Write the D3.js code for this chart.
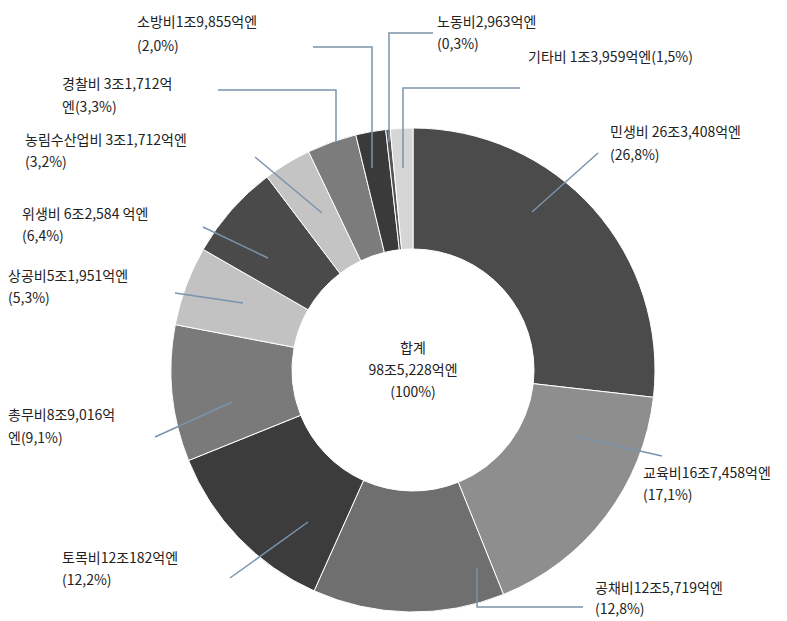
<!DOCTYPE html>
<html><head><meta charset="utf-8">
<script src="https://cdn.jsdelivr.net/npm/d3@7"></script>
<style>body{margin:0;background:#fff}svg{display:block}text{font-family:"Noto Sans CJK KR","Noto Sans",sans-serif;fill:#222}</style>
</head><body>
<script>
// Data
const categories = ["민생비","교육비","공채비","토목비","총무비","상공비","위생비","농림수산업비","경찰비","소방비","노동비","기타비"];
const shares = [26.8,17.1,12.8,12.2,9.1,5.3,6.4,3.2,3.3,2.0,0.3,1.5];
const amountLabels = ["26조3,408억엔","16조7,458억엔","12조5,719억엔","12조182억엔","8조9,016억엔","5조1,951억엔","6조2,584 억엔","3조1,712억엔","3조1,712억엔","1조9,855억엔","2,963억엔","1조3,959억엔"];
const shareLabels = ["(26,8%)","(17,1%)","(12,8%)","(12,2%)","(9,1%)","(5,3%)","(6,4%)","(3,2%)","(3,3%)","(2,0%)","(0,3%)","(1,5%)"];
const totalLabel = ["합계","98조5,228억엔","(100%)"];

// Layout (styles / positions)
const colors = ["#4b4b4b","#8e8e8e","#6f6f6f","#3c3c3c","#7a7a7a","#c2c2c2","#4a4a4a","#c4c4c4","#7c7c7c","#3a3a3a","#555555","#d6d6d6"];
const W=787,H=621,cx=413,cy=370,R=242,r=121;
const labelLayout = [
  {lines:[0,1], x:610, y:[137,160], anchor:"start", gap:true, pts:[[532,212],[598,153]]},
  {lines:[0,1], x:643, y:[478,500], anchor:"start", pts:[[578,437],[662,456]]},
  {lines:[0,1], x:595, y:[593,614], anchor:"start", pts:[[477,568],[477,607],[583,607]]},
  {lines:[0,1], x:62, y:[563,585], anchor:"start", pts:[[308,522],[230,578]]},
  {lines:[0,1], x:8, y:[420,443], anchor:"start", split:"억", pts:[[232,402],[155,437]]},
  {lines:[0,1], x:8, y:[281,303], anchor:"start", pts:[[243,303],[175,293]]},
  {lines:[0,1], x:22, y:[219,241], anchor:"start", gap:true, pts:[[268,258],[203,227]]},
  {lines:[0,1], x:25, y:[145,167], anchor:"start", gap:true, pts:[[322,213],[255,157]]},
  {lines:[0,1], x:62, y:[89,112], anchor:"start", gap:true, split:"억", pts:[[336,142],[336,90],[218,90]]},
  {lines:[0,1], x:137, y:[27,51], anchor:"start", pts:[[372,168],[372,47],[313,47]]},
  {lines:[0,1], x:437, y:[27,49], anchor:"start", pts:[[389,142],[389,33],[433,33]]},
  {lines:[0], x:528, y:[62], anchor:"start", gap:true, pts:[[403,168],[403,88],[520,88]]}
];

const svg = d3.select("body").append("svg").attr("width",W).attr("height",H);
const pie = d3.pie().value(d=>d).sort(null);
const arcs = pie(shares);
const arc = d3.arc().innerRadius(r).outerRadius(R);
const g = svg.append("g").attr("transform",`translate(${cx},${cy})`);
g.selectAll("path").data(arcs).join("path")
  .attr("d",arc).attr("fill",(d,i)=>colors[i]).attr("stroke","#fff").attr("stroke-width",1);

// leader lines
const line = d3.line();
svg.selectAll("path.leader").data(labelLayout).join("path").attr("class","leader")
  .attr("d",d=>line(d.pts)).attr("fill","none").attr("stroke","#7b93ab").attr("stroke-width",1.5);

// labels
labelLayout.forEach((L,i)=>{
  const name = categories[i] + (L.gap? " ":"");
  let l1, l2;
  if (L.lines.length===1) { l1 = name + amountLabels[i] + shareLabels[i]; }
  else if (L.split) {
    const a = amountLabels[i]; const k = a.indexOf(L.split)+1;
    l1 = name + a.slice(0,k); l2 = a.slice(k) + shareLabels[i];
  } else { l1 = name + amountLabels[i]; l2 = shareLabels[i]; }
  const t = svg.append("text").attr("font-size",14).attr("text-anchor",L.anchor);
  t.append("tspan").attr("x",L.x).attr("y",L.y[0]).text(l1);
  if (l2) t.append("tspan").attr("x",L.x).attr("y",L.y[1]).text(l2);
});

// center
svg.append("text").attr("text-anchor","middle").attr("font-size",14)
  .selectAll("tspan").data(totalLabel).join("tspan")
  .attr("x",cx).attr("y",(d,i)=>353+i*22).text(d=>d);
</script>
</body></html>
